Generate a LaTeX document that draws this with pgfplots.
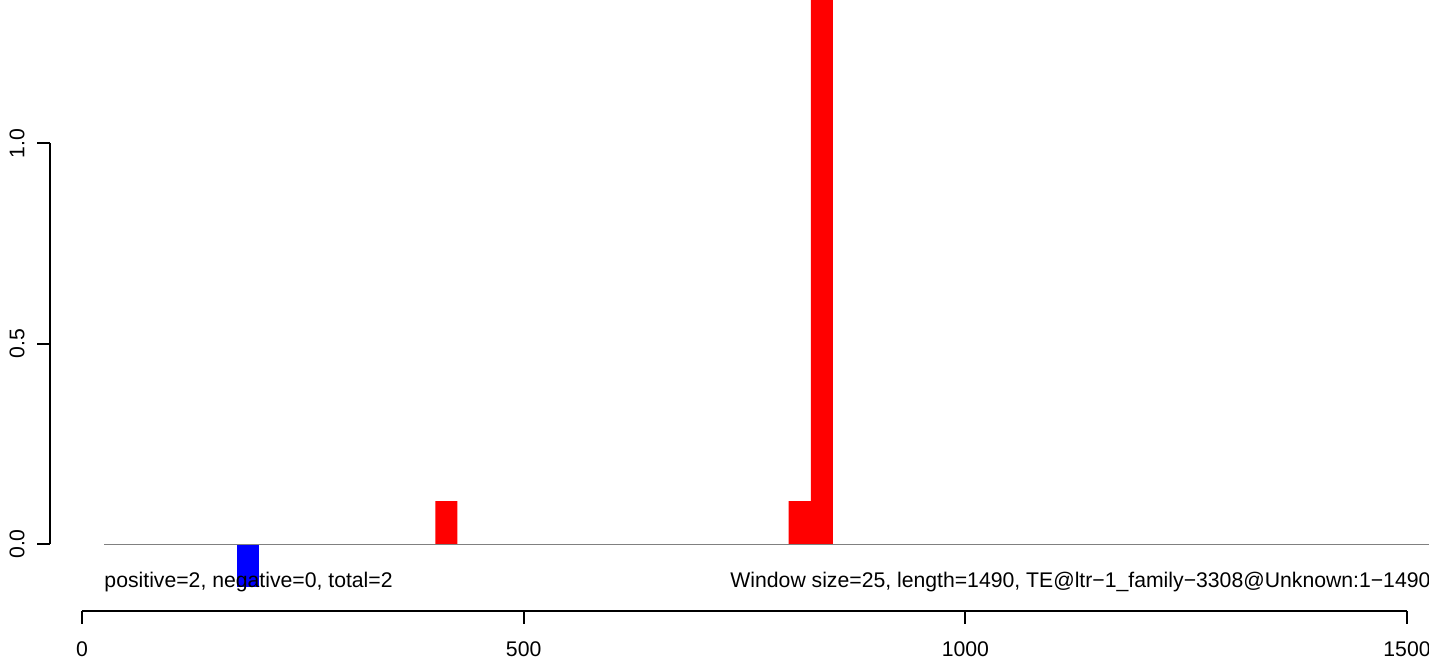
\documentclass[border=0pt]{standalone}
\usepackage{fontspec}
\setmainfont{Liberation Sans}
\usepackage{pgfplots}
\pgfplotsset{compat=1.18}
\begin{document}
\fontsize{10.6}{12.7}\selectfont
\begin{tikzpicture}[x=1pt,y=1pt]
\useasboundingbox (-41pt,-24pt) rectangle (673.5pt,305.5pt);
\clip (-41pt,-24pt) rectangle (673.5pt,305.5pt);
% main axis: x axis at the bottom
\begin{axis}[
  at={(0pt,0pt)}, anchor=south west,
  scale only axis, width=662.5pt, height=305.5pt,
  xmin=0, xmax=1500, ymin=-0.1675, ymax=1.36,
  axis x line=bottom, axis y line=none,
  axis line style={-, line width=0.9pt},
  xtick={0,500,1000,1500}, xticklabels={0,500,1000,1500},
  tick align=outside, major tick length=6.3pt,
  every tick/.style={black, line width=0.9pt},
  xticklabel style={inner sep=0pt, yshift=-8.8pt},
  clip=false,
]
\addplot[ybar, bar width=25, bar shift=0pt, fill=blue, draw=none] coordinates {(187.5,-0.107)};
\addplot[ybar, bar width=25, bar shift=0pt, fill=red, draw=none] coordinates {(412.5,0.107) (812.5,0.107) (837.5,1.5)};
\addplot[gray, line width=0.5pt] coordinates {(25,0) (1600,0)};
\node[anchor=base west, inner sep=0] at (axis cs:25,-0.108) {positive=2, negative=0, total=2};
\node[anchor=base west, inner sep=0] at (axis cs:733.6,-0.108) {Window size=25, length=1490, TE@ltr−1\_family−3308@Unknown:1−1490};
\end{axis}
% y axis
\begin{axis}[
  at={(-16pt,33.5pt)}, anchor=south west,
  scale only axis, width=1pt, height=200.3pt,
  xmin=0, xmax=1, ymin=0, ymax=1,
  axis x line=none, axis y line=left,
  axis line style={-, line width=0.9pt},
  ytick={0,0.5,1}, yticklabels={0.0,0.5,1.0},
  tick align=outside, major tick length=6.5pt,
  every tick/.style={black, line width=0.9pt},
  yticklabel style={rotate=90, anchor=south},
  yticklabel shift=2.5pt,
]
\addplot[draw=none] coordinates {(0,0)};
\end{axis}
\end{tikzpicture}
\end{document}
